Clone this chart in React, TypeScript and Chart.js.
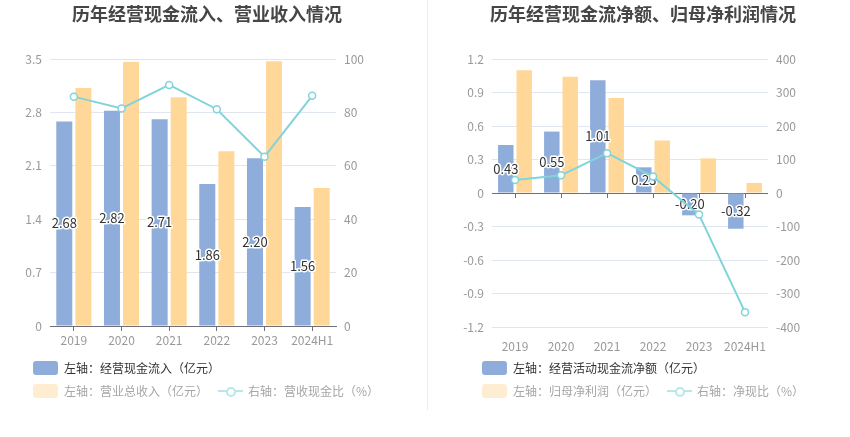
import React, { useEffect, useRef } from "react";
import { Chart, registerables } from "chart.js";

Chart.register(...registerables);

// ---------- data ----------
const years = ["2019", "2020", "2021", "2022", "2023", "2024H1"];
const cashInflow = [2.68, 2.82, 2.71, 1.86, 2.2, 1.56];
const revenue = [3.12, 3.46, 3.0, 2.29, 3.47, 1.81];
const cashRevenueRatio = [85.9, 81.5, 90.3, 81.2, 63.4, 86.2];
const opNetCash = [0.43, 0.55, 1.01, 0.23, -0.2, -0.32];
const netProfit = [1.1, 1.04, 0.85, 0.47, 0.31, 0.09];
const netCashRatio = [39.1, 52.9, 118.8, 48.9, -64.5, -355.6];

const leftTicksA = { min: 0, max: 3.5, step: 0.7 };
const leftTicksB = { min: 0, max: 100, step: 20 };
const rightTicksA = { min: -1.2, max: 1.2, step: 0.3 };
const rightTicksB = { min: -400, max: 400, step: 100 };

// ---------- styles ----------
const BLUE = "#8eaddb";
const ORANGE = "#ffd899";
const CYAN = "#80d4da";
const GRID = "#e0e6f1";
const AXIS = "#6e7079";
const TICK = "#999999";
const FONT = "'Noto Sans CJK SC', 'Noto Sans', sans-serif";

const fmt1 = (v: number) => String(Number(Number(v).toFixed(1)));

const labelPlugin = {
  id: "barLabels",
  afterDatasetDraw(chart: any, args: any) {
    if (args.index !== 0) return;
    const ctx = chart.ctx;
    const meta = args.meta;
    const data = chart.data.datasets[0].data as number[];
    ctx.save();
    ctx.font = `13px ${FONT}`;
    ctx.textAlign = "center";
    ctx.textBaseline = "middle";
    ctx.lineJoin = "round";
    meta.data.forEach((el: any, i: number) => {
      const p = el.getProps(["x", "y", "base"], true);
      const y = (p.y + p.base) / 2;
      const t = Number(data[i]).toFixed(2);
      ctx.strokeStyle = "#ffffff";
      ctx.lineWidth = 3;
      ctx.strokeText(t, p.x, y);
      ctx.fillStyle = "#333333";
      ctx.fillText(t, p.x, y);
    });
    ctx.restore();
  },
};

const zeroTickPlugin = {
  id: "zeroTicks",
  beforeDatasetsDraw(chart: any) {
    const xs = chart.scales.x;
    const ys = chart.scales.y;
    const y0 = ys.getPixelForValue(0);
    const ctx = chart.ctx;
    ctx.save();
    ctx.strokeStyle = AXIS;
    ctx.lineWidth = 1;
    ctx.beginPath();
    years.forEach((_, i) => {
      const x = Math.round(xs.getPixelForValue(i)) + 0.5;
      ctx.moveTo(x, y0);
      ctx.lineTo(x, y0 + 5);
    });
    ctx.stroke();
    ctx.restore();
  },
};

function makeConfig(opts: {
  barA: number[];
  barB: number[];
  line: number[];
  labels: string[];
  axA: { min: number; max: number; step: number };
  axB: { min: number; max: number; step: number };
  leftW: number;
  rightW: number;
  padBottom: number;
  zeroAxis: boolean;
}) {
  const tickFont = { size: 12, family: FONT };
  return {
    type: "bar",
    data: {
      labels: years,
      datasets: [
        {
          type: "bar",
          label: opts.labels[0],
          data: opts.barA,
          backgroundColor: BLUE,
          yAxisID: "y",
          order: 1,
          categoryPercentage: 0.8,
          barPercentage: 0.84,
        },
        {
          type: "bar",
          label: opts.labels[1],
          data: opts.barB,
          backgroundColor: ORANGE,
          yAxisID: "y",
          order: 2,
          categoryPercentage: 0.8,
          barPercentage: 0.84,
        },
        {
          type: "line",
          label: opts.labels[2],
          data: opts.line,
          borderColor: CYAN,
          borderWidth: 2,
          pointRadius: 3.5,
          pointBorderWidth: 1.5,
          pointBackgroundColor: "#ffffff",
          pointBorderColor: CYAN,
          tension: 0,
          yAxisID: "y1",
          order: 0,
        },
      ],
    },
    options: {
      responsive: false,
      animation: false,
      events: [],
      layout: { padding: { top: 59, bottom: opts.padBottom, left: 0, right: 0 } },
      plugins: {
        legend: { display: false },
        title: { display: false },
        tooltip: { enabled: false },
      },
      scales: {
        x: {
          type: "category",
          offset: true,
          afterFit: (s: any) => {
            s.height = 24;
          },
          border: { display: !opts.zeroAxis, color: AXIS },
          grid: {
            display: !opts.zeroAxis,
            drawOnChartArea: false,
            drawTicks: true,
            tickLength: 5,
            offset: false,
            color: AXIS,
          },
          ticks: {
            color: TICK,
            font: tickFont,
            padding: opts.zeroAxis ? 7 : 2,
            maxRotation: 0,
            autoSkip: false,
          },
        },
        y: {
          position: "left",
          min: opts.axA.min,
          max: opts.axA.max,
          afterFit: (s: any) => {
            s.width = opts.leftW;
          },
          border: { display: false },
          grid: {
            drawTicks: false,
            color: (c: any) =>
              opts.zeroAxis && c.tick && Math.abs(c.tick.value) < 1e-9 ? AXIS : GRID,
          },
          ticks: {
            stepSize: opts.axA.step,
            color: TICK,
            font: tickFont,
            padding: 8,
            callback: (v: any) => fmt1(v),
          },
        },
        y1: {
          position: "right",
          min: opts.axB.min,
          max: opts.axB.max,
          afterFit: (s: any) => {
            s.width = opts.rightW;
          },
          border: { display: false },
          grid: { drawOnChartArea: false, drawTicks: false },
          ticks: {
            stepSize: opts.axB.step,
            color: TICK,
            font: tickFont,
            padding: 8,
            callback: (v: any) => String(Math.round(v)),
          },
        },
      },
    },
    plugins: opts.zeroAxis ? [labelPlugin, zeroTickPlugin] : [labelPlugin],
  };
}

function ChartCanvas({ config }: { config: any }) {
  const ref = useRef<HTMLCanvasElement>(null);
  useEffect(() => {
    const chart = new Chart(ref.current as HTMLCanvasElement, config);
    return () => chart.destroy();
  }, []);
  return (
    <canvas
      ref={ref}
      width={425}
      height={437}
      style={{ display: "block", width: 425, height: 437 }}
    />
  );
}

function LegendBlock({
  left,
  labels,
}: {
  left: number;
  labels: string[];
}) {
  const textBase: React.CSSProperties = {
    fontFamily: FONT,
    fontSize: 12,
    lineHeight: "14px",
    whiteSpace: "nowrap",
  };
  return (
    <>
      <div
        style={{
          position: "absolute",
          left,
          top: 361,
          display: "flex",
          alignItems: "center",
          height: 14,
        }}
      >
        <div style={{ width: 25, height: 14, borderRadius: 3, background: BLUE }} />
        <span style={{ ...textBase, color: "#333", marginLeft: 6 }}>{labels[0]}</span>
      </div>
      <div
        style={{
          position: "absolute",
          left,
          top: 384,
          display: "flex",
          alignItems: "center",
          height: 14,
        }}
      >
        <div style={{ width: 25, height: 14, borderRadius: 3, background: "#ffedd2" }} />
        <span style={{ ...textBase, color: "#a6a6a6", marginLeft: 6 }}>{labels[1]}</span>
        <div
          style={{
            position: "relative",
            width: 25,
            height: 14,
            marginLeft: 10,
          }}
        >
          <div
            style={{
              position: "absolute",
              left: 0,
              top: 6,
              width: 25,
              height: 2,
              background: "#b6e7eb",
            }}
          />
          <div
            style={{
              position: "absolute",
              left: 7.5,
              top: 2.5,
              width: 6,
              height: 6,
              borderRadius: "50%",
              border: "2px solid #b6e7eb",
              background: "#fff",
            }}
          />
        </div>
        <span style={{ ...textBase, color: "#a6a6a6", marginLeft: 5 }}>{labels[2]}</span>
      </div>
    </>
  );
}

const leftLabels = ["左轴：经营现金流入（亿元）", "左轴：营业总收入（亿元）", "右轴：营收现金比（%）"];
const rightLabels = ["左轴：经营活动现金流净额（亿元）", "左轴：归母净利润（亿元）", "右轴：净现比（%）"];

export default function App() {
  const leftConfig = makeConfig({
    barA: cashInflow,
    barB: revenue,
    line: cashRevenueRatio,
    labels: leftLabels,
    axA: leftTicksA,
    axB: leftTicksB,
    leftW: 50,
    rightW: 89,
    padBottom: 87,
    zeroAxis: false,
  });
  const rightConfig = makeConfig({
    barA: opNetCash,
    barB: netProfit,
    line: netCashRatio,
    labels: rightLabels,
    axA: rightTicksA,
    axB: rightTicksB,
    leftW: 67,
    rightW: 82,
    padBottom: 86,
    zeroAxis: true,
  });
  const titleStyle: React.CSSProperties = {
    position: "absolute",
    top: 0,
    width: 440,
    textAlign: "center",
    fontFamily: FONT,
    fontWeight: "bold",
    fontSize: 18,
    lineHeight: "27px",
    color: "#464646",
    whiteSpace: "nowrap",
  };
  return (
    <div
      style={{
        position: "fixed",
        left: 0,
        top: 0,
        width: 850,
        height: 437,
        background: "#fff",
        overflow: "hidden",
      }}
    >
      <div style={{ position: "absolute", left: 0, top: 0 }}>
        <ChartCanvas config={leftConfig} />
      </div>
      <div style={{ position: "absolute", left: 425, top: 0 }}>
        <ChartCanvas config={rightConfig} />
      </div>
      <div style={{ position: "absolute", left: 427, top: 0, width: 1, height: 410, background: "#ececec" }} />
      <div style={{ ...titleStyle, left: 207 - 220 }}>历年经营现金流入、营业收入情况</div>
      <div style={{ ...titleStyle, left: 643 - 220 }}>历年经营现金流净额、归母净利润情况</div>
      <LegendBlock left={33} labels={leftLabels} />
      <LegendBlock left={482} labels={rightLabels} />
    </div>
  );
}
